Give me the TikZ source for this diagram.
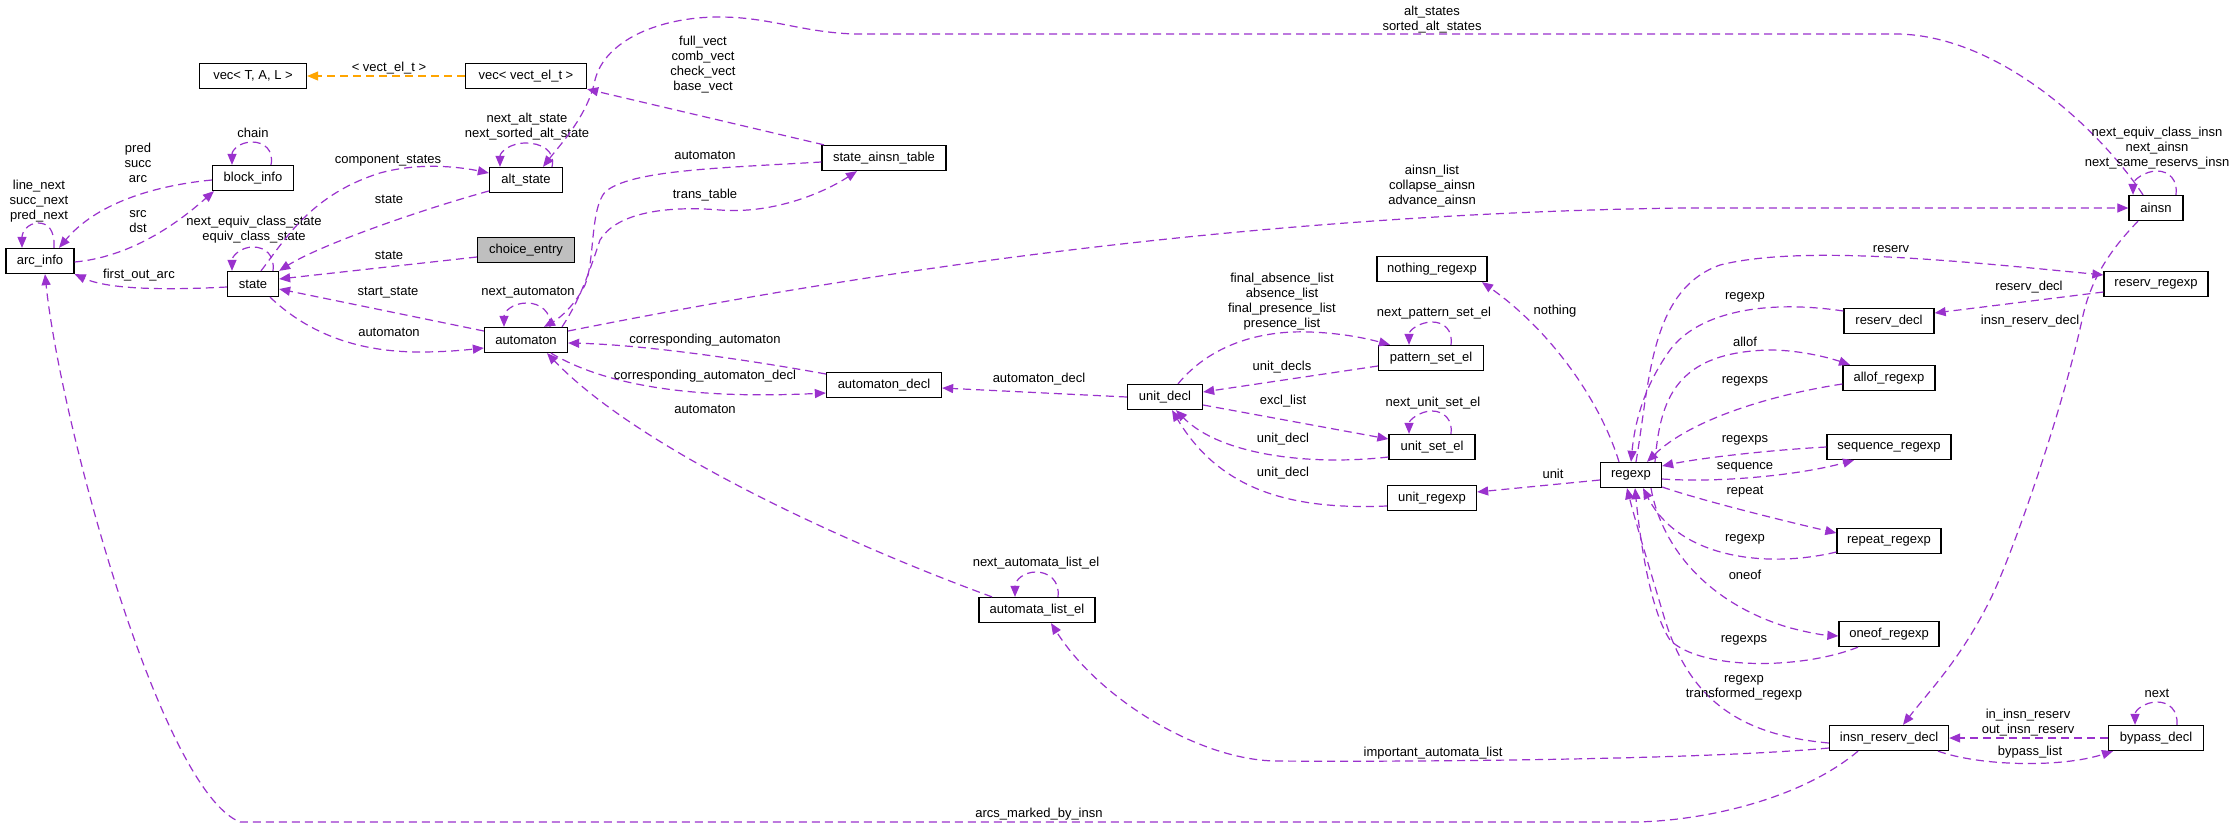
\documentclass[tikz,border=0pt]{standalone}
\usepackage{fontspec}
\setmainfont{Liberation Sans}
\usetikzlibrary{arrows.meta,calc}
\definecolor{edgepurple}{HTML}{9A32CD}
\definecolor{nodegray}{HTML}{BFBFBF}
\definecolor{orangeedge}{HTML}{FFA500}
\begin{document}
\begin{tikzpicture}[x=1pt,y=-1pt,
 cls/.style={draw=black, line width=1.3pt, fill=white, minimum height=25pt, inner sep=0pt, font=\fontsize{13}{15}\selectfont},
 rel/.style={draw=edgepurple, line width=1.2pt, dash pattern=on 8pt off 5pt, -{Triangle[length=11pt,width=9pt]}},
 tmpl/.style={rel, draw=orangeedge},
 lab/.style={font=\fontsize{13}{15}\selectfont, align=center, inner sep=0pt}]
\fill[white] (0,0) rectangle (2234,828);
\useasboundingbox (0,0) rectangle (2234,828);

% nodes
\node[cls, minimum width=107pt] (vecTAL) at (253,76) {vec< T, A, L >};
\node[cls, minimum width=121pt] (vecV) at (526,76) {vec< vect\_el\_t >};
\node[cls, minimum width=81pt] (blockinfo) at (253,178) {block\_info};
\node[cls, minimum width=68pt] (arcinfo) at (40,261) {arc\_info};
\node[cls, minimum width=51pt] (state) at (253,284) {state};
\node[cls, minimum width=73pt] (altstate) at (526,180) {alt\_state};
\node[cls, minimum width=97pt, fill=nodegray] (choice) at (526,250) {choice\_entry};
\node[cls, minimum width=83pt] (automaton) at (526,340) {automaton};
\node[cls, minimum width=124pt] (sat) at (884,158) {state\_ainsn\_table};
\node[cls, minimum width=115pt] (adecl) at (884,385) {automaton\_decl};
\node[cls, minimum width=116pt] (ale) at (1037,610) {automata\_list\_el};
\node[cls, minimum width=75pt] (udecl) at (1165,397) {unit\_decl};
\node[cls, minimum width=105pt] (pse) at (1431,358) {pattern\_set\_el};
\node[cls, minimum width=86pt] (use) at (1432,447) {unit\_set\_el};
\node[cls, minimum width=89pt] (ure) at (1432,498) {unit\_regexp};
\node[cls, minimum width=110pt] (nre) at (1432,269) {nothing\_regexp};
\node[cls, minimum width=61pt] (regexp) at (1631,475) {regexp};
\node[cls, minimum width=54pt] (ainsn) at (2156,208) {ainsn};
\node[cls, minimum width=104pt] (rre) at (2156,284) {reserv\_regexp};
\node[cls, minimum width=90pt] (rdecl) at (1889,321) {reserv\_decl};
\node[cls, minimum width=92pt] (allof) at (1889,378) {allof\_regexp};
\node[cls, minimum width=124pt] (seq) at (1889,447) {sequence\_regexp};
\node[cls, minimum width=104pt] (rep) at (1889,541) {repeat\_regexp};
\node[cls, minimum width=100pt] (oneof) at (1889,634) {oneof\_regexp};
\node[cls, minimum width=119pt] (ird) at (1889,738) {insn\_reserv\_decl};
\node[cls, minimum width=95pt] (bypass) at (2156,738) {bypass\_decl};

% edges
\draw[tmpl] (vecV.west) -- (vecTAL.east);
\node[lab] (l1) at (389,68) {< vect\_el\_t >};

\draw[rel] ([xshift=18pt]blockinfo.north) .. controls (274,150) and (264,142) .. (252,142) .. controls (240,142) and (232,150) .. ([xshift=-21pt]blockinfo.north);
\node[lab] (l2) at (253,133) {chain};

\draw[rel] ([yshift=-2pt]blockinfo.west) .. controls (150,186) and (95,205) .. ([xshift=19pt]arcinfo.north);
\node[lab] (l3) at (138,163) {pred\\succ\\arc};

\draw[rel] ([yshift=-1pt]arcinfo.east) .. controls (140,256) and (190,212) .. ([xshift=-39pt]blockinfo.south);
\node[lab] (l4) at (138,222) {src\\dst};

\draw[rel] ([xshift=14pt]arcinfo.north) .. controls (55,230) and (48,223) .. (38,223) .. controls (28,223) and (22,232) .. ([xshift=-18pt]arcinfo.north);
\node[lab] (l5) at (39,201) {line\_next\\succ\_next\\pred\_next};

\draw[rel] ([yshift=-3pt]state.west) .. controls (170,290) and (110,290) .. (arcinfo.south east);
\node[lab] (l6) at (139,275) {first\_out\_arc};

\draw[rel] ([xshift=20pt]state.north) .. controls (275,255) and (265,247) .. (253,247) .. controls (241,247) and (232,256) .. ([xshift=-21pt]state.north);
\node[lab] (l7) at (254,230) {next\_equiv\_class\_state\\equiv\_class\_state};

\draw[rel] ([yshift=-11pt]altstate.west) .. controls (420,210) and (320,245) .. (state.north east);
\node[lab] (l8) at (389,199) {state};

\draw[rel] ([xshift=8pt]state.north) .. controls (285,240) and (310,195) .. (380,173) .. controls (420,162) and (460,167) .. ([yshift=7pt]altstate.west);
\node[lab] (l9) at (388,161) {component\_states};

\draw[rel] ([xshift=26pt]altstate.north) .. controls (556,150) and (540,143) .. (526,143) .. controls (510,143) and (500,152) .. ([xshift=-26pt]altstate.north);
\node[lab] (l10) at (527,127) {next\_alt\_state\\next\_sorted\_alt\_state};

\draw[rel] ([xshift=-13pt]ainsn.north) .. controls (2100,130) and (2000,36) .. (1898,34) -- (854,34) .. controls (800,32) and (770,17) .. (719,17) .. controls (660,17) and (605,40) .. (595,80) .. controls (588,115) and (560,145) .. ([xshift=17pt]altstate.north);
\node[lab] (l11) at (1432,20) {alt\_states\\sorted\_alt\_states};

\draw[rel] ([xshift=-60pt]sat.north) -- (vecV.south east);
\node[lab] (l12) at (703,65) {full\_vect\\comb\_vect\\check\_vect\\base\_vect};

\draw[rel] ([yshift=-4pt]sat.west) .. controls (720,168) and (630,170) .. (605,192) .. controls (590,210) and (595,260) .. (585,285) .. controls (575,305) and (560,318) .. ([xshift=18pt]automaton.north);
\node[lab] (l13) at (705,155) {automaton};

\draw[rel] ([xshift=36pt]automaton.north) .. controls (580,300) and (590,270) .. (600,240) .. controls (615,215) and (660,205) .. (720,210) .. controls (770,214) and (820,195) .. ([xshift=-27pt]sat.south);
\node[lab] (l14) at (705,195) {trans\_table};

\draw[rel] ([xshift=24pt]automaton.north) .. controls (552,312) and (540,303) .. (527,303) .. controls (512,303) and (504,312) .. ([xshift=-22pt]automaton.north);
\node[lab] (l15) at (528,293) {next\_automaton};

\draw[rel] ([yshift=-7pt]choice.west) -- ([yshift=5pt]state.east);
\node[lab] (l16) at (389,255) {state};

\draw[rel] ([yshift=9pt]automaton.west) -- ([yshift=-5pt]state.east);
\node[lab] (l17) at (388,293) {start\_state};

\draw[rel] ([xshift=17pt]state.south) .. controls (310,335) and (360,352) .. (420,352) .. controls (445,352) and (465,350) .. ([yshift=-8pt]automaton.west);
\node[lab] (l18) at (389,332) {automaton};

\draw[rel] ([yshift=9pt]automaton.east) .. controls (800,285) and (1200,215) .. (1680,208) -- (ainsn.west);
\node[lab] (l19) at (1432,186) {ainsn\_list\\collapse\_ainsn\\advance\_ainsn};

\draw[rel] ([yshift=11pt]adecl.west) .. controls (760,362) and (650,345) .. ([yshift=-3pt]automaton.east);
\node[lab] (l20) at (705,340) {corresponding\_automaton};

\draw[rel] ([xshift=25pt]automaton.south) .. controls (600,382) and (680,400) .. ([yshift=-8pt]adecl.west);
\node[lab] (l21) at (705,376) {corresponding\_automaton\_decl};

\draw[rel] ([xshift=-45pt]ale.north) .. controls (850,545) and (640,450) .. ([xshift=21pt]automaton.south);
\node[lab] (l22) at (705,409) {automaton};

\draw[rel] ([xshift=21pt]ale.north) .. controls (1060,580) and (1048,572) .. (1036,572) .. controls (1024,572) and (1015,580) .. ([xshift=-22pt]ale.north);
\node[lab] (l23) at (1036,563) {next\_automata\_list\_el};

\draw[rel] (udecl.west) -- ([yshift=-3pt]adecl.east);
\node[lab] (l24) at (1039,379) {automaton\_decl};

\draw[rel] ([xshift=13pt]udecl.north) .. controls (1210,345) and (1260,330) .. (1310,332) .. controls (1340,333) and (1365,338) .. ([xshift=-41pt]pse.north);
\node[lab] (l25) at (1282,302) {final\_absence\_list\\absence\_list\\final\_presence\_list\\presence\_list};

\draw[rel] ([xshift=20pt]pse.north) .. controls (1453,330) and (1444,322) .. (1432,322) .. controls (1420,322) and (1409,330) .. ([xshift=-22pt]pse.north);
\node[lab] (l26) at (1434,313) {next\_pattern\_set\_el};

\draw[rel] ([yshift=-8pt]pse.west) -- ([yshift=5pt]udecl.east);
\node[lab] (l27) at (1282,367) {unit\_decls};

\draw[rel] ([yshift=-8pt]udecl.east) -- ([yshift=8pt]use.west);
\node[lab] (l28) at (1283,401) {excl\_list};

\draw[rel] ([yshift=-10pt]use.west) .. controls (1310,466) and (1220,455) .. ([xshift=11pt]udecl.south);
\node[lab] (l29) at (1283,439) {unit\_decl};

\draw[rel] ([xshift=19pt]use.north) .. controls (1453,420) and (1444,411) .. (1432,411) .. controls (1420,411) and (1409,420) .. ([xshift=-23pt]use.north);
\node[lab] (l30) at (1433,403) {next\_unit\_set\_el};

\draw[rel] ([yshift=-8pt]ure.west) .. controls (1290,510) and (1220,490) .. ([xshift=7pt]udecl.south);
\node[lab] (l31) at (1283,473) {unit\_decl};

\draw[rel] ([yshift=-5pt]regexp.west) -- ([yshift=6pt]ure.east);
\node[lab] (l32) at (1553,474) {unit};

\draw[rel] ([xshift=-12pt]regexp.north) .. controls (1600,400) and (1550,330) .. ([xshift=50pt]nre.south);
\node[lab] (l33) at (1555,311) {nothing};

\draw[rel] ([xshift=5pt]regexp.north) .. controls (1650,380) and (1650,290) .. (1720,265) .. controls (1800,245) and (1950,260) .. ([yshift=9pt]rre.west);
\node[lab] (l34) at (1891,249) {reserv};

\draw[rel] ([yshift=10pt]rdecl.west) .. controls (1770,300) and (1700,310) .. (1670,350) .. controls (1645,385) and (1635,420) .. (regexp.north);
\node[lab] (l35) at (1745,297) {regexp};

\draw[rel] ([xshift=24pt]regexp.north) .. controls (1660,400) and (1675,352) .. (1770,350) .. controls (1800,350) and (1830,358) .. ([xshift=-39pt]allof.north);
\node[lab] (l36) at (1745,342) {allof};

\draw[rel] ([yshift=-6pt]allof.west) .. controls (1770,395) and (1690,420) .. ([xshift=16pt]regexp.north);
\node[lab] (l37) at (1745,381) {regexps};

\draw[rel] (seq.west) .. controls (1770,450) and (1700,458) .. ([yshift=9pt]regexp.east);
\node[lab] (l38) at (1745,440) {regexps};

\draw[rel] ([yshift=-4pt]regexp.east) .. controls (1720,483) and (1800,475) .. ([xshift=-35pt]seq.south);
\node[lab] (l39) at (1745,467) {sequence};

\draw[rel] ([yshift=-12pt]regexp.east) .. controls (1700,500) and (1780,520) .. ([yshift=8pt]rep.west);
\node[lab] (l40) at (1745,492) {repeat};

\draw[rel] ([yshift=-11pt]rep.west) .. controls (1770,568) and (1680,560) .. ([xshift=12pt]regexp.south);
\node[lab] (l41) at (1745,539) {regexp};

\draw[rel] ([xshift=20pt]regexp.south) .. controls (1660,540) and (1700,600) .. (1787,627) .. controls (1805,632) and (1822,635) .. ([yshift=-2pt]oneof.west);
\node[lab] (l42) at (1745,575) {oneof};

\draw[rel] ([xshift=-31pt]oneof.south) .. controls (1800,670) and (1700,670) .. (1670,640) .. controls (1650,610) and (1640,540) .. ([xshift=4pt]regexp.south);
\node[lab] (l43) at (1744,640) {regexps};

\draw[rel] ([yshift=-5pt]ird.west) .. controls (1740,735) and (1690,700) .. (1665,620) .. controls (1650,570) and (1635,520) .. ([xshift=-4pt]regexp.south);
\node[lab] (l44) at (1744,688) {regexp\\transformed\_regexp};

\draw[rel] ([yshift=-10pt]ird.west) .. controls (1700,760) and (1400,762) .. (1276,761) .. controls (1200,760) and (1100,700) .. ([xshift=14pt]ale.south);
\node[lab] (l45) at (1433,753) {important\_automata\_list};

\draw[rel] ([xshift=-31pt]ird.south) .. controls (1800,800) and (1700,822) .. (1630,822) -- (240,822) .. controls (160,790) and (60,420) .. ([xshift=5pt]arcinfo.south);
\node[lab] (l46) at (1039,814) {arcs\_marked\_by\_insn};

\draw[rel] ([xshift=49pt]ird.south) .. controls (1980,766) and (2060,768) .. ([xshift=-43pt]bypass.south);
\node[lab] (l47) at (2030,752) {bypass\_list};

\draw[rel] (bypass.west) -- (ird.east);
\node[lab] (l48) at (2028,723) {in\_insn\_reserv\\out\_insn\_reserv};

\draw[rel] ([xshift=21pt]bypass.north) .. controls (2178,710) and (2169,702) .. (2157,702) .. controls (2145,702) and (2135,710) .. ([xshift=-21pt]bypass.north);
\node[lab] (l49) at (2157,693) {next};

\draw[rel] ([xshift=20pt]ainsn.north) .. controls (2178,180) and (2169,171) .. (2157,171) .. controls (2145,171) and (2133,180) .. ([xshift=-23pt]ainsn.north);
\node[lab] (l50) at (2157,148) {next\_equiv\_class\_insn\\next\_ainsn\\next\_same\_reservs\_insn};

\draw[rel] ([xshift=-18pt]ainsn.south) .. controls (2110,250) and (2090,280) .. (2082,320) .. controls (2060,420) and (2010,560) .. (1990,600) .. controls (1960,660) and (1930,690) .. ([xshift=14pt]ird.north);
\node[lab] (l51) at (2030,321) {insn\_reserv\_decl};

\draw[rel] ([yshift=-8pt]rre.west) -- ([yshift=8pt]rdecl.east);
\node[lab] (l52) at (2029,287) {reserv\_decl};
\end{tikzpicture}
\end{document}
